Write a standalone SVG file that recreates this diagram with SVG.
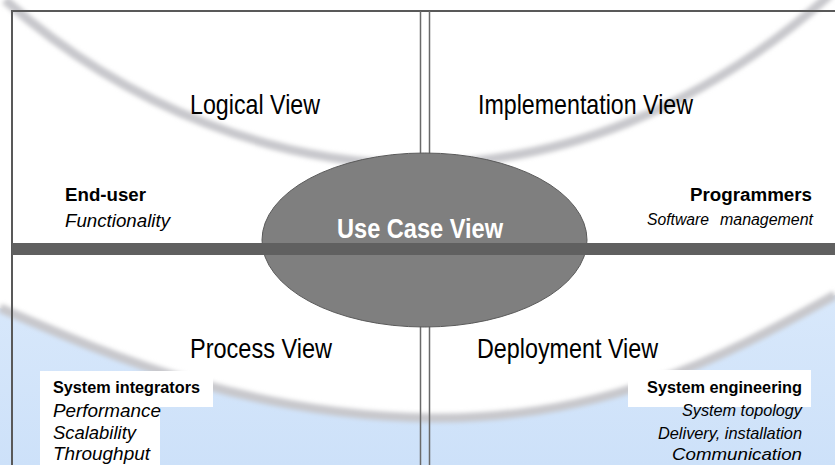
<svg xmlns="http://www.w3.org/2000/svg" width="835" height="465" viewBox="0 0 835 465">
  <defs>
    <filter id="soft" x="-5%" y="-20%" width="110%" height="140%">
      <feGaussianBlur stdDeviation="2.2"/>
    </filter>
    <linearGradient id="blue" x1="0" y1="0" x2="0" y2="1">
      <stop offset="0" stop-color="#d8e8fb"/>
      <stop offset="1" stop-color="#cde1f9"/>
    </linearGradient>
  </defs>
  <style>
    text { font-family: "Liberation Sans", Arial, sans-serif; fill: #000; }
    .title { font-size: 28px; }
    .role { font-size: 18px; font-weight: bold; }
    .concern { font-size: 18px; font-style: italic; }
    .role-s { font-size: 17px; font-weight: bold; }
    .concern-s { font-size: 17px; font-style: italic; }
    .frame { stroke: #595959; stroke-width: 2; fill: none; }
    .divider { stroke: #6a6a6a; stroke-width: 1.5; fill: none; }
    .arc { stroke: #c8c8cc; stroke-width: 9; fill: none; filter: url(#soft); }
    .box { fill: #ffffff; }
  </style>

  <!-- background -->
  <g id="background">
    <rect x="0" y="0" width="835" height="465" fill="#ffffff"/>
    <path d="M0,308 C120,360 250,415 430,418 C600,420 720,360 835,295 L835,465 L0,465 Z" fill="url(#blue)"/>
    <path class="arc" d="M5,0 C130,110 280,165 420,164 C560,163 700,110 830,-5"/>
    <path class="arc" d="M0,308 C120,360 250,415 430,418 C600,420 720,360 835,295"/>
  </g>

  <!-- frame and dividers -->
  <g id="connectors">
    <path class="frame" d="M12,465 L12,11 L835,11"/>
    <line class="divider" x1="420.5" y1="11" x2="420.5" y2="465"/>
    <line class="divider" x1="429.5" y1="11" x2="429.5" y2="465"/>
  </g>

  <g id="use-case-view">
    <ellipse cx="424.5" cy="240" rx="162.5" ry="87" fill="#7f7f7f" stroke="#5a5a5a" stroke-width="1"/>
  </g>

  <g id="divider-bar">
    <rect x="12" y="243" width="823" height="12" fill="#606060"/>
  </g>

  <g id="use-case-label">
    <text x="337" y="238" font-size="28" font-weight="bold" style="fill:#ffffff" textLength="166" lengthAdjust="spacingAndGlyphs">Use Case View</text>
  </g>

  <g id="logical-view">
    <text class="title" x="190" y="114" textLength="130" lengthAdjust="spacingAndGlyphs">Logical View</text>
    <text class="role" x="65" y="201" textLength="81" lengthAdjust="spacingAndGlyphs">End-user</text>
    <text class="concern" x="65" y="227" textLength="105" lengthAdjust="spacingAndGlyphs">Functionality</text>
  </g>

  <g id="implementation-view">
    <text class="title" x="478" y="114" textLength="215" lengthAdjust="spacingAndGlyphs">Implementation View</text>
    <text class="role" x="690" y="201" textLength="122" lengthAdjust="spacingAndGlyphs">Programmers</text>
    <text class="concern" style="font-size:16px"><tspan x="647" y="225" textLength="62" lengthAdjust="spacingAndGlyphs">Software</tspan><tspan x="720" y="225" textLength="93" lengthAdjust="spacingAndGlyphs">management</tspan></text>
  </g>

  <g id="process-view">
    <text class="title" x="190" y="358" textLength="142" lengthAdjust="spacingAndGlyphs">Process View</text>
    <path class="box" d="M40,371 L213,371 L213,407 L160,407 L160,465 L40,465 Z"/>
    <text class="role-s" x="53" y="393" textLength="147" lengthAdjust="spacingAndGlyphs">System integrators</text>
    <text class="concern" x="53" y="417" textLength="108" lengthAdjust="spacingAndGlyphs">Performance</text>
    <text class="concern" x="53" y="439" textLength="83" lengthAdjust="spacingAndGlyphs">Scalability</text>
    <text class="concern" x="53" y="460" textLength="97" lengthAdjust="spacingAndGlyphs">Throughput</text>
  </g>

  <g id="deployment-view">
    <text class="title" x="477" y="358" textLength="181" lengthAdjust="spacingAndGlyphs">Deployment View</text>
    <rect class="box" x="628" y="370" width="183" height="37"/>
    <text class="role-s" x="647" y="393" textLength="155" lengthAdjust="spacingAndGlyphs">System engineering</text>
    <text class="concern-s" x="682" y="416" textLength="120" lengthAdjust="spacingAndGlyphs">System topology</text>
    <text class="concern-s" x="658" y="439" textLength="144" lengthAdjust="spacingAndGlyphs">Delivery, installation</text>
    <text class="concern-s" x="672" y="460" textLength="130" lengthAdjust="spacingAndGlyphs">Communication</text>
  </g>
</svg>
